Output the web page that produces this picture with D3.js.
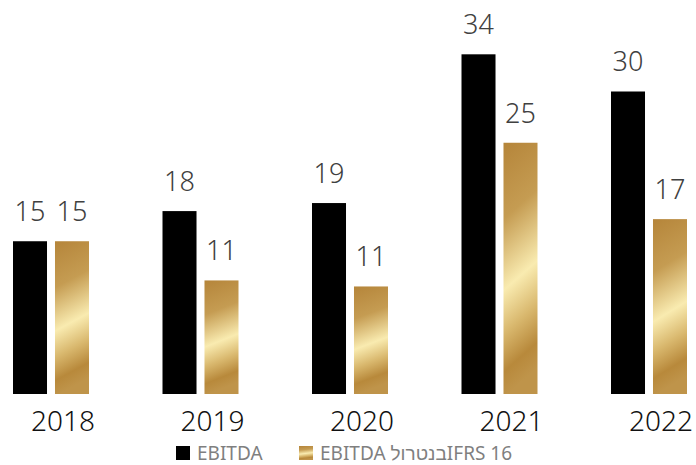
<!DOCTYPE html>
<html>
<head>
<meta charset="utf-8">
<script src="https://cdn.jsdelivr.net/npm/d3@7"></script>
<style>
  body { margin: 0; background: #fff; }
  text { font-family: "Source Sans Pro", "Noto Sans", sans-serif; font-weight: 300; }
</style>
</head>
<body>
<svg id="chart" width="696" height="465"></svg>
<script>
// values (labels are rounded)
const years = ["2018", "2019", "2020", "2021", "2022"];
const ebitda = [15.2, 18.2, 19.0, 33.8, 30.1];
const ebitdaExIfrs = [15.2, 11.3, 10.7, 25.0, 17.4];
const seriesNames = ["EBITDA", "EBITDA בנטרולIFRS 16"];

const svg = d3.select("#chart");

// gold gradient for the second series
const defs = svg.append("defs");
const grad = defs.append("linearGradient")
    .attr("id", "gold")
    .attr("x1", 0).attr("y1", 0)
    .attr("x2", 0.12).attr("y2", 1);
[[0, "#b5853a"], [0.3, "#c59c52"], [0.58, "#f9ebb0"], [0.75, "#d9b86e"], [0.9, "#b8893b"], [1, "#bf944a"]]
    .forEach(function(s) {
        grad.append("stop").attr("offset", s[0]).attr("stop-color", s[1]);
    });

const baseY = 394;
const x0 = d3.scaleBand().domain(years).range([13, 13 + 149.5 * years.length]);
const x1 = d3.scaleBand().domain([0, 1]).range([0, 76]).paddingInner(0.19).paddingOuter(0);
const y = d3.scaleLinear().domain([0, 38]).range([baseY, baseY - 38 * 10.05]);

const data = years.map(function(yr, i) {
    return { year: yr, vals: [ebitda[i], ebitdaExIfrs[i]] };
});

const groups = svg.selectAll("g.year")
    .data(data)
    .enter().append("g")
    .attr("class", "year")
    .attr("transform", function(d) { return "translate(" + x0(d.year) + ",0)"; });

groups.selectAll("rect")
    .data(function(d) { return d.vals; })
    .enter().append("rect")
    .attr("x", function(d, i) { return x1(i); })
    .attr("y", function(d) { return y(d); })
    .attr("width", x1.bandwidth())
    .attr("height", function(d) { return baseY - y(d); })
    .attr("fill", function(d, i) { return i == 0 ? "#000" : "url(#gold)"; });

groups.selectAll("text.val")
    .data(function(d) { return d.vals; })
    .enter().append("text")
    .attr("class", "val")
    .attr("x", function(d, i) { return x1(i) + x1.bandwidth() / 2; })
    .attr("y", function(d) { return y(d) - 20; })
    .attr("text-anchor", "middle")
    .attr("font-size", 27)
    .attr("fill", "#404040")
    .text(function(d) { return Math.round(d); });

// year labels
groups.append("text")
    .attr("x", 50)
    .attr("y", 431)
    .attr("text-anchor", "middle")
    .attr("font-size", 28)
    .attr("fill", "#111")
    .text(function(d) { return d.year; });

// legend
const legend = svg.append("g").attr("transform", "translate(176,446)");
const legX = [0, 123];
seriesNames.forEach(function(name, i) {
    legend.append("rect")
        .attr("x", legX[i]).attr("y", 0)
        .attr("width", 14).attr("height", 14)
        .attr("fill", i == 0 ? "#000" : "url(#gold)");
    legend.append("text")
        .attr("x", legX[i] + 21)
        .attr("y", 14)
        .attr("font-size", 19)
        .style("font-weight", 400)
        .attr("fill", "#7f7f7f")
        .attr("direction", "ltr")
        .text(name);
});
</script>
</body>
</html>
